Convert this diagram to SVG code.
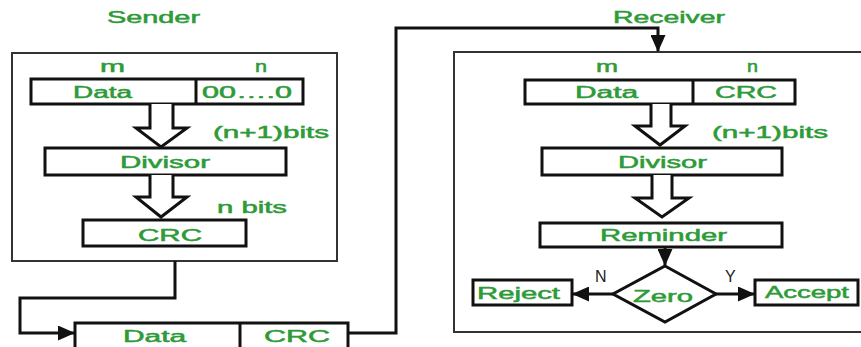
<svg xmlns="http://www.w3.org/2000/svg" width="861" height="347" viewBox="0 0 861 347">
<defs>
<style>
.t{font-family:"Liberation Sans",Arial,sans-serif;font-size:16px;fill:#2e9b38;stroke:#2e9b38;stroke-width:0.5}
.s{font-family:"Liberation Sans",Arial,sans-serif;font-size:16px;fill:#222}
.b{fill:#fff;stroke:#111;stroke-width:3}
.o{fill:#fff;stroke:#333;stroke-width:2}
.h{fill:#fff;stroke:#111;stroke-width:3;stroke-linejoin:miter}
.c{fill:none;stroke:#111;stroke-width:3}
.d{stroke:#111;stroke-width:3}
</style>
<marker id="ah" viewBox="0 0 17 15" refX="16" refY="7.5" markerWidth="17" markerHeight="15" orient="auto" markerUnits="userSpaceOnUse">
<path d="M0,0 L17,7.5 L0,15 z" fill="#111"/>
</marker>
</defs>
<rect width="861" height="347" fill="#fff"/>
<g id="sender">
<text class="t" x="107" y="23" textLength="93" lengthAdjust="spacingAndGlyphs">Sender</text>
<rect class="o" x="12" y="53" width="325" height="208"/>
<text class="t" x="100" y="72" textLength="25" lengthAdjust="spacingAndGlyphs">m</text>
<text class="t" x="255" y="72" textLength="12" lengthAdjust="spacingAndGlyphs">n</text>
<rect class="b" x="31" y="79" width="272" height="25"/>
<line class="d" x1="196" y1="79" x2="196" y2="104"/>
<text class="t" x="73" y="97.5" textLength="59" lengthAdjust="spacingAndGlyphs">Data</text>
<text class="t" x="202" y="97.5" textLength="90" lengthAdjust="spacingAndGlyphs">00….0</text>
<path class="h" d="M150,104 V128 H136 L161,147 L187,128 H173 V104"/>
<text class="t" x="213" y="138" textLength="116" lengthAdjust="spacingAndGlyphs">(n+1)bits</text>
<rect class="b" x="45" y="148" width="241" height="27"/>
<text class="t" x="120" y="167.5" textLength="90" lengthAdjust="spacingAndGlyphs">Divisor</text>
<path class="h" d="M150,175 V197 H136 L161,217 L187,197 H173 V175"/>
<text class="t" x="217" y="213" textLength="70" lengthAdjust="spacingAndGlyphs">n bits</text>
<rect class="b" x="83" y="220" width="163" height="26"/>
<text class="t" x="138" y="240.5" textLength="64" lengthAdjust="spacingAndGlyphs">CRC</text>
</g>
<g id="frame">
<rect class="b" x="75" y="323" width="273" height="30"/>
<line class="d" x1="240" y1="323" x2="240" y2="350"/>
<text class="t" x="123" y="342" textLength="63" lengthAdjust="spacingAndGlyphs">Data</text>
<text class="t" x="264" y="342" textLength="66" lengthAdjust="spacingAndGlyphs">CRC</text>
</g>
<g id="receiver">
<text class="t" x="613" y="23" textLength="112" lengthAdjust="spacingAndGlyphs">Receiver</text>
<rect class="o" x="454" y="52" width="410" height="280"/>
<text class="t" x="596" y="72" textLength="22" lengthAdjust="spacingAndGlyphs">m</text>
<text class="t" x="747" y="72" textLength="11" lengthAdjust="spacingAndGlyphs">n</text>
<rect class="b" x="525" y="80" width="270" height="24"/>
<line class="d" x1="693" y1="80" x2="693" y2="104"/>
<text class="t" x="575" y="97.5" textLength="63" lengthAdjust="spacingAndGlyphs">Data</text>
<text class="t" x="715" y="97.5" textLength="62" lengthAdjust="spacingAndGlyphs">CRC</text>
<path class="h" d="M651,104 V126 H635 L660,145 L685,126 H671 V104"/>
<text class="t" x="712" y="138" textLength="116" lengthAdjust="spacingAndGlyphs">(n+1)bits</text>
<rect class="b" x="542" y="148" width="240" height="27"/>
<text class="t" x="618" y="167.5" textLength="89" lengthAdjust="spacingAndGlyphs">Divisor</text>
<path class="h" d="M652,175 V198 H635 L662,217 L689,198 H672 V175"/>
<rect class="b" x="540" y="223" width="242" height="24"/>
<text class="t" x="600" y="240.5" textLength="127" lengthAdjust="spacingAndGlyphs">Reminder</text>
</g>
<g id="zero">
<path d="M665,266 L716,294 L665,322 L613,294 Z" fill="#fff" stroke="#111" stroke-width="3"/>
<text class="t" x="633" y="302" textLength="60" lengthAdjust="spacingAndGlyphs">Zero</text>
</g>
<g id="reject">
<rect class="b" x="473" y="280" width="99" height="25"/>
<text class="t" x="477" y="298.5" textLength="83" lengthAdjust="spacingAndGlyphs">Reject</text>
</g>
<g id="accept">
<rect class="b" x="755" y="280" width="103" height="25"/>
<text class="t" x="765" y="297.5" textLength="84" lengthAdjust="spacingAndGlyphs">Accept</text>
</g>
<g id="connectors">
<path class="c" d="M175,261 V298 H20 V333 H74" marker-end="url(#ah)"/>
<path class="c" d="M348,333 H396 V28 H658 V51" marker-end="url(#ah)"/>
<path class="c" d="M665,247 V265" marker-end="url(#ah)"/>
<path class="c" d="M613,294 H573" marker-end="url(#ah)"/>
<path class="c" d="M716,294 H754" marker-end="url(#ah)"/>
<text class="s" x="595" y="282">N</text>
<text class="s" x="725" y="282">Y</text>
</g>
</svg>
